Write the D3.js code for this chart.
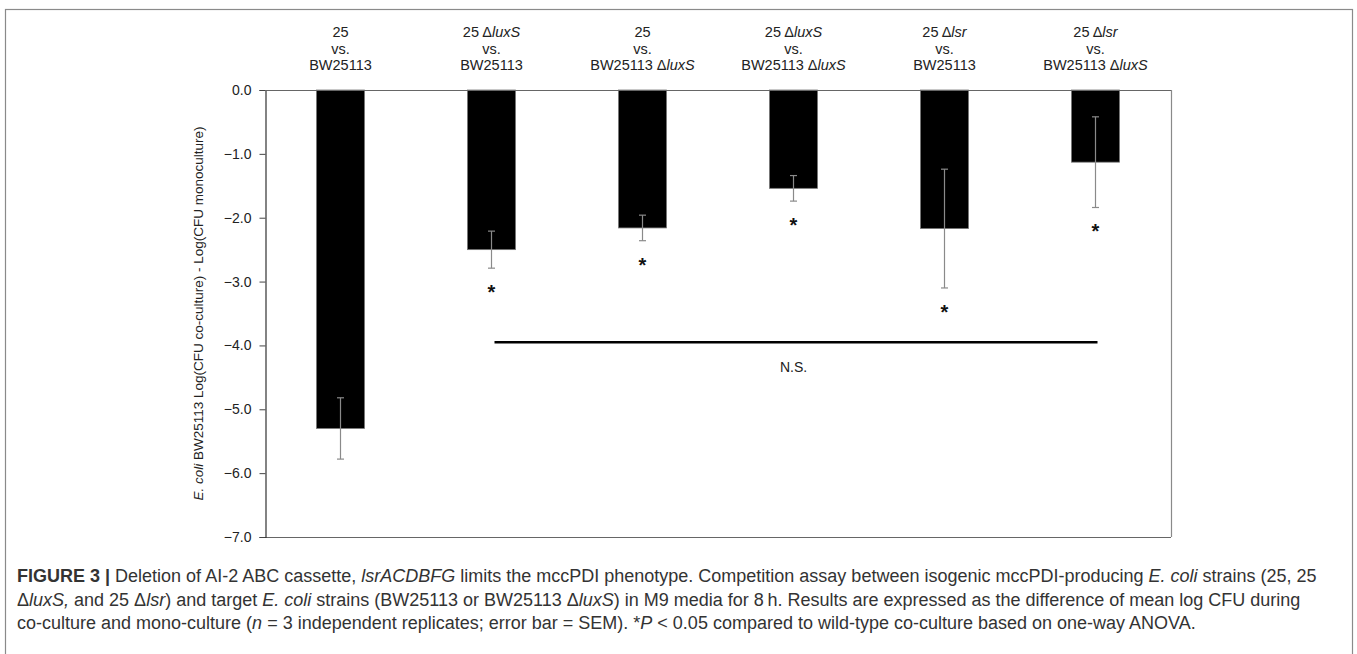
<!DOCTYPE html>
<html>
<head>
<meta charset="utf-8">
<script src="https://cdn.jsdelivr.net/npm/d3@7/dist/d3.min.js"></script>
<style>
  body { margin: 0; background: #fff; }
  svg { display: block; font-family: "Liberation Sans", Arial, sans-serif; }
</style>
</head>
<body>
<div id="chart"></div>
<script>
// category labels, _x_ marks italic
const labelTop = ['25', '25 Δ_luxS_', '25', '25 Δ_luxS_', '25 Δ_lsr_', '25 Δ_lsr_'];
const labelMid = ['vs.', 'vs.', 'vs.', 'vs.', 'vs.', 'vs.'];
const labelBottom = ['BW25113', 'BW25113', 'BW25113 Δ_luxS_', 'BW25113 Δ_luxS_', 'BW25113', 'BW25113 Δ_luxS_'];
const means = [-5.30, -2.50, -2.16, -1.54, -2.17, -1.13];
const sems = [0.48, 0.29, 0.20, 0.20, 0.93, 0.71];
const significant = [false, true, true, true, true, true];
const yTicks = [0, -1, -2, -3, -4, -5, -6, -7];
const nsFrom = 1, nsTo = 5, nsValue = -3.95;
const yTitle = '_E. coli_ BW25113 Log(CFU co-culture) - Log(CFU monoculture)';
const caption = [
  '**FIGURE 3 |** Deletion of AI-2 ABC cassette, _lsrACDBFG_ limits the mccPDI phenotype. Competition assay between isogenic mccPDI-producing _E. coli_ strains (25, 25',
  'Δ_luxS,_ and 25 Δ_lsr_) and target _E. coli_ strains (BW25113 or BW25113 Δ_luxS_) in M9 media for 8\u2009h. Results are expressed as the difference of mean log CFU during',
  'co-culture and mono-culture (_n_ = 3 independent replicates; error bar = SEM). *_P_ < 0.05 compared to wild-type co-culture based on one-way ANOVA.'
];

const W = 1357, H = 654;
const plot = { left: 265, right: 1171, top: 90, bottom: 537 };

// write a string with _italic_ and **bold** parts as tspans
function rich(textSel, str) {
  str.split(/(\*\*[^*]+\*\*|_[^_]+_)/).filter(s => s.length).forEach(s => {
    const t = textSel.append('tspan');
    if (s.startsWith('**')) t.attr('font-weight', 'bold').text(s.slice(2, -2));
    else if (s.startsWith('_') && s.endsWith('_') && s.length > 1) t.attr('font-style', 'italic').text(s.slice(1, -1));
    else t.text(s);
  });
}

const svg = d3.select('#chart').append('svg')
  .attr('width', W)
  .attr('height', H);

// outer figure frame
svg.append('rect')
  .attr('x', 5.5).attr('y', 9.5)
  .attr('width', 1347).attr('height', H + 10)
  .attr('fill', 'none').attr('stroke', '#8a8a8a').attr('stroke-width', 1.2);

const idx = d3.range(means.length);
const x = d3.scaleBand()
  .domain(idx)
  .range([plot.left, plot.right])
  .paddingInner(0.682)
  .paddingOuter(0.341);
const y = d3.scaleLinear()
  .domain([-7, 0])
  .range([plot.bottom, plot.top]);

// plot frame right / bottom
svg.append('line')
  .attr('x1', plot.right + 0.5).attr('x2', plot.right + 0.5)
  .attr('y1', plot.top).attr('y2', plot.bottom)
  .attr('stroke', '#8a8a8a').attr('stroke-width', 1.2);
svg.append('line')
  .attr('x1', plot.left).attr('x2', plot.right)
  .attr('y1', y(-7) + 0.5).attr('y2', y(-7) + 0.5)
  .attr('stroke', '#666').attr('stroke-width', 1.2);

// bars
svg.append('g').selectAll('rect')
  .data(idx)
  .join('rect')
  .attr('x', i => x(i))
  .attr('y', y(0))
  .attr('width', x.bandwidth())
  .attr('height', i => y(means[i]) - y(0))
  .attr('fill', '#000')
  .attr('stroke', '#777')
  .attr('stroke-width', 0.8);

// error bars
const cx = i => x(i) + x.bandwidth() / 2;
const err = svg.append('g').attr('stroke', '#8a8a8a').attr('stroke-width', 1.2);
idx.forEach(i => {
  const hi = y(means[i] + sems[i]), lo = y(means[i] - sems[i]);
  err.append('line').attr('x1', cx(i)).attr('x2', cx(i)).attr('y1', hi).attr('y2', lo);
  err.append('line').attr('x1', cx(i) - 3.5).attr('x2', cx(i) + 3.5).attr('y1', hi).attr('y2', hi);
  err.append('line').attr('x1', cx(i) - 3.5).attr('x2', cx(i) + 3.5).attr('y1', lo).attr('y2', lo);
});

// significance stars
svg.append('g').selectAll('text')
  .data(idx.filter(i => significant[i]))
  .join('text')
  .attr('x', cx)
  .attr('y', i => y(means[i] - sems[i]) + 31)
  .attr('text-anchor', 'middle')
  .attr('font-size', 20)
  .attr('font-weight', 'bold')
  .attr('fill', '#111')
  .text('*');

// N.S. line
svg.append('line')
  .attr('x1', cx(nsFrom) + 3).attr('x2', cx(nsTo) + 2)
  .attr('y1', y(nsValue)).attr('y2', y(nsValue))
  .attr('stroke', '#000').attr('stroke-width', 2.5);
svg.append('text')
  .attr('x', (cx(nsFrom) + cx(nsTo)) / 2)
  .attr('y', y(nsValue) + 30)
  .attr('text-anchor', 'middle')
  .attr('font-size', 14)
  .attr('fill', '#222')
  .text('N.S.');

// y axis
const yAxis = svg.append('g')
  .attr('transform', `translate(${plot.left + 0.5},0)`)
  .call(d3.axisLeft(y).tickValues(yTicks).tickFormat(d3.format('.1f')).tickSize(6).tickPadding(8));
yAxis.select('.domain').attr('stroke', '#333').attr('stroke-width', 1.2);
yAxis.selectAll('.tick line').attr('stroke', '#444');
yAxis.selectAll('.tick text')
  .attr('font-size', 14)
  .attr('font-family', '"Liberation Sans", Arial, sans-serif')
  .attr('fill', '#222');

// zero line (category axis)
svg.append('line')
  .attr('x1', plot.left).attr('x2', plot.right)
  .attr('y1', y(0) + 0.5).attr('y2', y(0) + 0.5)
  .attr('stroke', '#666').attr('stroke-width', 1.2);

// y title
const yt = svg.append('text')
  .attr('transform', `translate(203,${(plot.top + plot.bottom) / 2}) rotate(-90)`)
  .attr('text-anchor', 'middle')
  .attr('font-size', 13.5)
  .attr('fill', '#222');
rich(yt, yTitle);

// category labels above the plot
[labelTop, labelMid, labelBottom].forEach((row, r) => {
  row.forEach((lab, i) => {
    const t = svg.append('text')
      .attr('x', cx(i))
      .attr('y', 37 + r * 16.5)
      .attr('text-anchor', 'middle')
      .attr('font-size', 14.5)
      .attr('fill', '#222');
    rich(t, lab);
  });
});

// caption
caption.forEach((line, k) => {
  const t = svg.append('text')
    .attr('x', 17)
    .attr('y', 582 + k * 23.5)
    .attr('font-size', 18)
    .attr('fill', '#333');
  rich(t, line);
});
</script>
</body>
</html>
